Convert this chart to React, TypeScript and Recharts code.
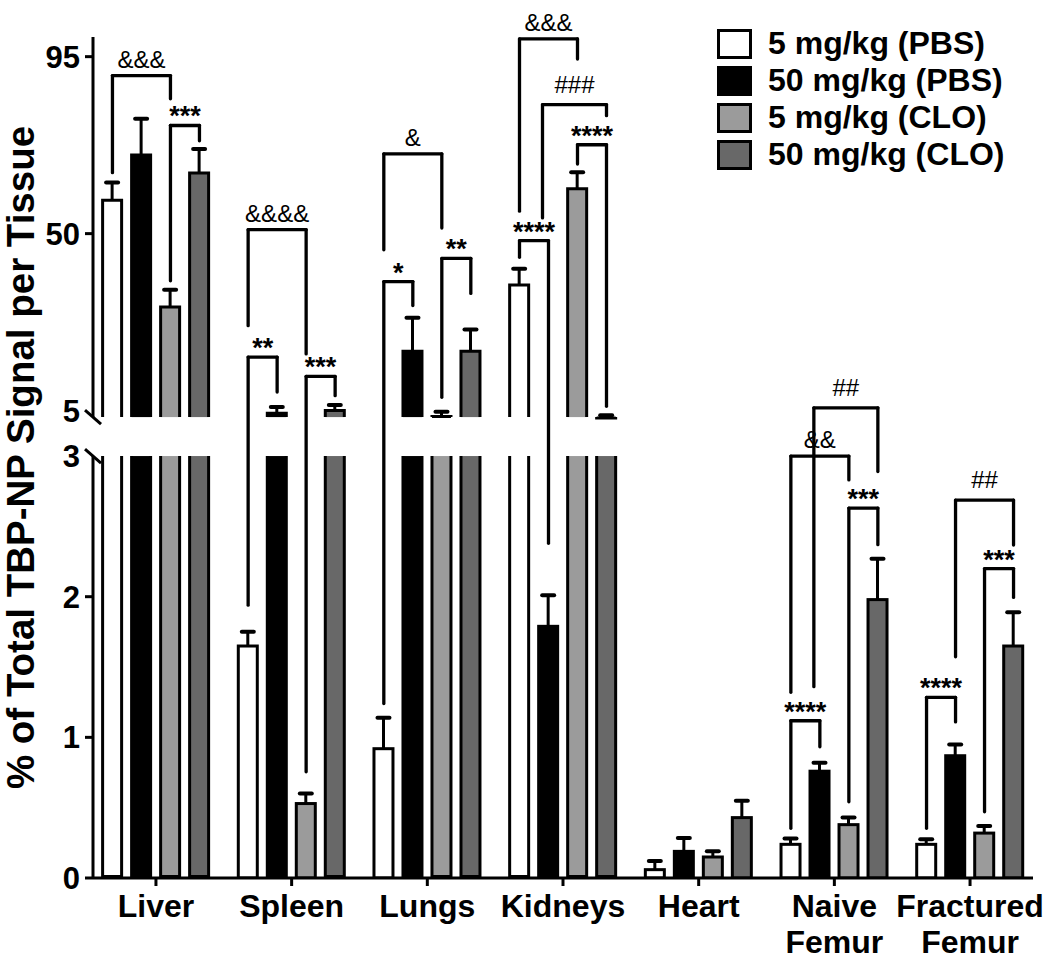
import React from "react";
import { BarChart, Bar, XAxis, YAxis, ReferenceLine } from "recharts";

const tissues = ["Liver", "Spleen", "Lungs", "Kidneys", "Heart", "Naive\nFemur", "Fractured\nFemur"];
const seriesNames = ["5 mg/kg (PBS)", "50 mg/kg (PBS)", "5 mg/kg (CLO)", "50 mg/kg (CLO)"];
const seriesColors = ["#ffffff", "#000000", "#9b9b9b", "#686868"];

// mean and SEM, % of total signal
const pbs5 = [58.9, 1.66, 0.93, 37.3, 0.07, 0.25, 0.25];
const pbs5Err = [4.1, 0.09, 0.21, 3.8, 0.05, 0.03, 0.025];
const pbs50 = [70.4, 4.7, 20.5, 1.8, 0.2, 0.77, 0.88];
const pbs50Err = [8.8, 1.2, 8.1, 0.21, 0.085, 0.05, 0.07];
const clo5 = [31.7, 0.54, 3.9, 61.8, 0.16, 0.39, 0.33];
const clo5Err = [4.0, 0.06, 0.8, 3.8, 0.03, 0.04, 0.04];
const clo50 = [65.8, 5.4, 20.5, 3.5, 0.44, 1.99, 1.66];
const clo50Err = [5.7, 1.0, 5.1, 0.3, 0.11, 0.28, 0.23];

const yTicks = [0, 1, 2, 3, 5, 50, 95];

// [tissue, fromBar, toBar, top, leftEnd, rightEnd, label, leftShiftPx]
const brackets: [number, number, number, number, number, number, string, number][] = [
  [0, 0, 2, 90.2, 65.5, 84.3, "&&&", 0],
  [0, 2, 3, 77.5, 38.0, 73.6, "***", 0],
  [1, 0, 2, 51.0, 26.6, 19.4, "&&&&", 0],
  [1, 0, 1, 18.6, 1.94, 9.7, "**", 0],
  [1, 2, 3, 13.7, 0.755, 8.8, "***", 0],
  [2, 0, 2, 70.3, 45.9, 51.4, "&", 0],
  [2, 0, 1, 37.8, 1.24, 31.7, "*", 0],
  [2, 2, 3, 43.7, 8.4, 34.8, "**", 0],
  [3, 0, 2, 99.5, 55.7, 94.4, "&&&", 0],
  [3, 1, 3, 82.8, 54.0, 80.0, "###", -6],
  [3, 2, 3, 72.6, 67.7, 6.1, "****", 0],
  [3, 0, 1, 48.2, 44.0, 2.38, "****", 0],
  [5, 1, 3, 5.7, 1.36, 2.89, "##", -6],
  [5, 0, 2, 3.0, 1.32, 2.83, "&&", 0],
  [5, 2, 3, 2.63, 0.542, 2.37, "***", 0],
  [5, 0, 1, 1.118, 0.353, 0.933, "****", 0],
  [6, 1, 3, 2.687, 1.573, 2.367, "##", 0],
  [6, 2, 3, 2.2, 0.471, 1.995, "***", 0],
  [6, 0, 1, 1.284, 0.353, 1.11, "****", 0],
];

const values = [pbs5, pbs50, clo5, clo50];
const errors = [pbs5Err, pbs50Err, clo5Err, clo50Err];

// broken y axis: 0-3 linear, then 3.35-100 compressed above a gap
const LOW_MAX = 3;
const HIGH_MIN = 3.35;
const GAP = 0.277;
const HIGH_K = 0.02796;
const Y_MAX = 100;
const disp = (v: number) => (v <= LOW_MAX ? v : LOW_MAX + GAP + (v - HIGH_MIN) * HIGH_K);

const FONT = "'Liberation Sans', Arial, Helvetica, sans-serif";
const W = 1050;
const H = 965;
const MARGIN = { top: 37, right: 17, left: 0, bottom: 0 };
const Y_AXIS_W = 93;
const X_AXIS_H = 87;
const PLOT_W = W - MARGIN.right - Y_AXIS_W;
const PLOT_H = H - MARGIN.top - X_AXIS_H;
const X_PAD = 0.464;
const X_MIN = -X_PAD;
const X_MAX = tissues.length - 1 + X_PAD;
const PX_PER_X = PLOT_W / (X_MAX - X_MIN);
const Y_TOP = disp(Y_MAX);
const PX_PER_Y = PLOT_H / Y_TOP;
const BAR_SIZE = 22;
const BAR_GAP = 7;

const barX = (g: number, b: number, dx = 0) =>
  g + ((b - 1.5) * (BAR_SIZE + BAR_GAP) + dx) / PX_PER_X;

const data = tissues.map((t, i) => ({
  pos: i,
  d0: disp(pbs5[i]),
  d1: disp(pbs50[i]),
  d2: disp(clo5[i]),
  d3: disp(clo50[i]),
}));

const makeShape = (s: number) => (props: any) => {
  const { x, y, width, height, index } = props;
  if (!height || height <= 0) return <g />;
  const v = values[s][index];
  const dv = disp(v);
  const ppu = height / dv;
  const base = y + height;
  const cx = x + width / 2;
  const errTop = base - disp(v + errors[s][index]) * ppu;
  const ix = x + 1.5;
  const iw = width - 3;
  const fill = seriesColors[s];
  const err = (
    <g>
      <line x1={cx} x2={cx} y1={y + 2} y2={errTop} stroke="#000" strokeWidth={3} />
      <line x1={cx - 6} x2={cx + 6} y1={errTop} y2={errTop} stroke="#000" strokeWidth={4} strokeLinecap="round" />
    </g>
  );
  if (dv <= LOW_MAX) {
    return (
      <g>
        {err}
        <rect x={ix} y={y + 1.5} width={iw} height={Math.max(height - 1.5, 0)} fill={fill} stroke="#000" strokeWidth={3} />
      </g>
    );
  }
  const lowTop = base - LOW_MAX * ppu;
  const highBottom = base - (LOW_MAX + GAP) * ppu;
  return (
    <g>
      {err}
      <rect x={ix} y={lowTop} width={iw} height={base - lowTop} fill={fill} />
      <path d={`M${ix},${lowTop} V${base - 1.5} H${ix + iw} V${lowTop}`} fill="none" stroke="#000" strokeWidth={3} />
      <rect x={ix} y={y + 1.5} width={iw} height={highBottom - y - 1.5} fill={fill} />
      <path d={`M${ix},${highBottom} V${y + 1.5} H${ix + iw} V${highBottom}`} fill="none" stroke="#000" strokeWidth={3} />
    </g>
  );
};

const XTick = (props: any) => {
  const { x, y, payload } = props;
  const lines = tissues[payload.value].split("\n");
  return (
    <text x={x} y={y} textAnchor="middle" fontFamily={FONT} fontSize={32} fontWeight="bold" fill="#000">
      {lines.map((l, i) => (
        <tspan key={i} x={x} dy={i === 0 ? 29 : 36}>
          {l}
        </tspan>
      ))}
    </text>
  );
};

const YTick = (props: any) => {
  const { x, y, payload } = props;
  const v = yTicks.find((t) => Math.abs(disp(t) - payload.value) < 1e-6);
  const broken = v === LOW_MAX || v === 5;
  return (
    <g>
      {!broken && <line x1={x + 5} x2={x + 13} y1={y} y2={y} stroke="#000" strokeWidth={3} />}
      <text x={x} y={y} dy={11} textAnchor="end" fontFamily={FONT} fontSize={31} fontWeight="bold" fill="#000">
        {v}
      </text>
    </g>
  );
};

const isStars = (s: string) => s.includes("*");
const labelOffset = (s: string) => (isStars(s) ? 0 : s.includes("#") ? 12 : 8);

const App = () => {
  const dxMark = 8 / PX_PER_X;
  const dyMark = 7 / PX_PER_Y;
  const breakEnds = [LOW_MAX, LOW_MAX + GAP];
  return (
    <div style={{ position: "absolute", left: 0, top: 0, width: W, height: H, background: "#fff" }}>
      <BarChart
        width={W}
        height={H}
        data={data}
        margin={MARGIN}
        barSize={BAR_SIZE}
        barGap={BAR_GAP}
      >
        <XAxis
          dataKey="pos"
          type="number"
          domain={[X_MIN, X_MAX]}
          allowDataOverflow
          ticks={tissues.map((t, i) => i)}
          interval={0}
          height={X_AXIS_H}
          tickSize={8}
          tickMargin={2}
          axisLine={{ stroke: "#000", strokeWidth: 3 }}
          tickLine={{ stroke: "#000", strokeWidth: 3 }}
          tick={<XTick />}
        />
        <YAxis
          type="number"
          domain={[0, Y_TOP]}
          allowDataOverflow
          ticks={yTicks.map(disp)}
          interval={0}
          width={Y_AXIS_W}
          axisLine={false}
          tickLine={false}
          tickSize={8}
          tickMargin={5}
          tick={<YTick />}
          label={{
            value: "% of Total TBP-NP Signal per Tissue",
            angle: -90,
            position: "insideLeft",
            offset: 20,
            style: { textAnchor: "middle" },
            fontSize: 38.5,
            fontWeight: "bold",
            fontFamily: FONT,
            fill: "#000",
          }}
        />
        {seriesNames.map((n, s) => (
          <Bar
            key={n}
            name={n}
            dataKey={`d${s}`}
            fill={seriesColors[s]}
            shape={makeShape(s)}
            isAnimationActive={false}
          />
        ))}
        {/* broken y axis line */}
        <ReferenceLine
          segment={[{ x: X_MIN, y: 0 }, { x: X_MIN, y: LOW_MAX }]}
          stroke="#000"
          strokeWidth={3}
          ifOverflow="visible"
        />
        <ReferenceLine
          segment={[{ x: X_MIN, y: LOW_MAX + GAP }, { x: X_MIN, y: Y_TOP }]}
          stroke="#000"
          strokeWidth={3}
          ifOverflow="visible"
        />
        {breakEnds.map((b) => (
          <ReferenceLine
            key={`brk${b}`}
            segment={[
              { x: X_MIN - dxMark, y: b + dyMark },
              { x: X_MIN + dxMark, y: b - dyMark },
            ]}
            stroke="#000"
            strokeWidth={3}
            ifOverflow="visible"
          />
        ))}
        {brackets.flatMap(([g, a, b, top, l, r, text, dxA], i) => {
          const xa = barX(g, a, dxA);
          const xb = barX(g, b);
          const common = { stroke: "#000", strokeWidth: 3.3, strokeLinecap: "round" as const, ifOverflow: "visible" as const };
          return [
            <ReferenceLine key={`bl${i}`} segment={[{ x: xa, y: disp(l) }, { x: xa, y: disp(top) }]} {...common} />,
            <ReferenceLine
              key={`bt${i}`}
              segment={[{ x: xa, y: disp(top) }, { x: xb, y: disp(top) }]}
              {...common}
              label={{
                value: text,
                position: "top",
                offset: labelOffset(text),
                fontSize: isStars(text) ? 27 : 24,
                fontWeight: isStars(text) ? "bold" : "normal",
                fontFamily: FONT,
                fill: "#000",
              }}
            />,
            <ReferenceLine key={`br${i}`} segment={[{ x: xb, y: disp(top) }, { x: xb, y: disp(r) }]} {...common} />,
          ];
        })}
      </BarChart>
      <div
        style={{
          position: "absolute",
          left: 717,
          top: 25,
          fontFamily: FONT,
          fontWeight: "bold",
          fontSize: 32,
          color: "#000",
        }}
      >
        {seriesNames.map((n, s) => (
          <div key={n} style={{ display: "flex", alignItems: "center", height: 37 }}>
            <span
              style={{
                width: 29,
                height: 24,
                border: "3px solid #000",
                background: seriesColors[s],
                display: "inline-block",
              }}
            />
            <span style={{ marginLeft: 16, lineHeight: "37px", whiteSpace: "nowrap" }}>{n}</span>
          </div>
        ))}
      </div>
    </div>
  );
};

export default App;
